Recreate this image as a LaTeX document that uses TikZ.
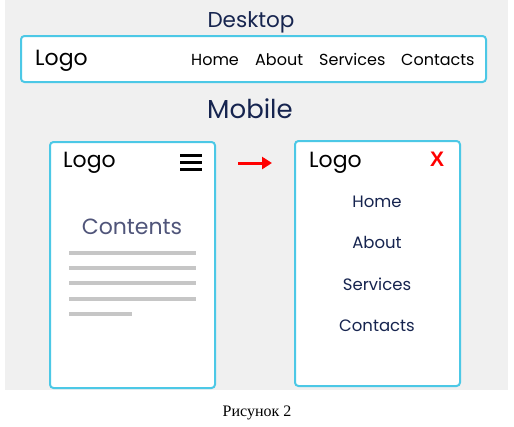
\documentclass[tikz,border=0pt]{standalone}
\usepackage{fontspec}
\setmainfont{Liberation Serif}
\newfontfamily\pop{Poppins}
\newfontfamily\arialb{Liberation Sans}
\usetikzlibrary{arrows.meta}
\definecolor{bgray}{HTML}{F0F0F0}
\definecolor{frame}{HTML}{4CC8E6}
\definecolor{navy}{HTML}{16244F}
\definecolor{slate}{HTML}{50557A}
\definecolor{linegray}{HTML}{C6C6C6}
\definecolor{alert}{HTML}{FF0000}
\tikzset{
  panel/.style={draw=frame, line width=2pt, fill=white, rounded corners=3.5pt},
  title/.style={font=\pop\fontsize{21}{21}\selectfont, text=navy, anchor=base, inner sep=0pt},
  logo/.style={font=\pop\fontsize{22}{22}\selectfont, text=black, anchor=base west, inner sep=0pt},
  navitem/.style={font=\pop\fontsize{16}{16}\selectfont, text=black, anchor=base west, inner sep=0pt},
  menuitem/.style={font=\pop\fontsize{16.5}{16.5}\selectfont, text=navy, anchor=base, inner sep=0pt},
  textline/.style={draw=linegray, line width=4pt},
  burger/.style={draw=black, line width=3pt},
}
\begin{document}
\begin{tikzpicture}[x=1pt, y=-1pt]
\useasboundingbox (0,0) rectangle (514,426);
% page background
\fill[bgray] (5,0) rectangle (508,390);
% desktop header
\node[title, font=\pop\fontsize{21.5}{21.5}\selectfont] (desktop) at (251,27) {Desktop};
\draw[panel] (21,36) rectangle (486,82);
\node[logo] (dlogo) at (35,65) {Logo};
\node[navitem] (dhome) at (191,65) {Home};
\node[navitem] (dabout) at (255,65) {About};
\node[navitem] (dserv) at (319,65) {Services};
\node[navitem] (dcont) at (401,65) {Contacts};
% mobile section
\node[title, font=\pop\fontsize{26}{26}\selectfont] (mobile) at (250,118) {Mobile};
% closed menu
\draw[panel] (50,142) rectangle (215,388);
\node[logo] (mlogo) at (63,167) {Logo};
\coordinate (b1) at (180,155); \coordinate (b1e) at (202,155);
\coordinate (b2) at (180,162); \coordinate (b2e) at (202,162);
\coordinate (b3) at (180,169); \coordinate (b3e) at (202,169);
\draw[burger] (b1) -- (b1e);
\draw[burger] (b2) -- (b2e);
\draw[burger] (b3) -- (b3e);
\node[title, font=\pop\fontsize{22}{22}\selectfont, text=slate] (contents) at (132,234) {Contents};
\coordinate (l1) at (69,253);  \coordinate (l1e) at (196,253);
\coordinate (l2) at (69,268);  \coordinate (l2e) at (196,268);
\coordinate (l3) at (69,283);  \coordinate (l3e) at (196,283);
\coordinate (l4) at (69,298.5);\coordinate (l4e) at (196,298.5);
\coordinate (l5) at (69,314);  \coordinate (l5e) at (132,314);
\draw[textline] (l1) -- (l1e);
\draw[textline] (l2) -- (l2e);
\draw[textline] (l3) -- (l3e);
\draw[textline] (l4) -- (l4e);
\draw[textline] (l5) -- (l5e);
% transition arrow
\coordinate (arrS) at (238,163);
\coordinate (arrE) at (272,163);
\draw[alert, line width=3pt, -{Triangle[length=10pt,width=12pt]}] (arrS) -- (arrE);
% opened menu
\draw[panel] (295,141) rectangle (460,386);
\node[logo] (olog) at (309,167) {Logo};
\node[font=\arialb\bfseries\fontsize{21}{21}\selectfont, text=alert, inner sep=0pt] (close) at (437,159.5) {X};
\node[menuitem] (mhome) at (377,207) {Home};
\node[menuitem] (mabout) at (377,248) {About};
\node[menuitem] (mserv) at (377,290) {Services};
\node[menuitem] (mcont) at (377,331.5) {Contacts};
% caption
\node[font=\fontsize{16}{16}\selectfont, anchor=base, inner sep=0pt] (cap) at (257,416) {Рисунок 2};
\end{tikzpicture}
\end{document}
